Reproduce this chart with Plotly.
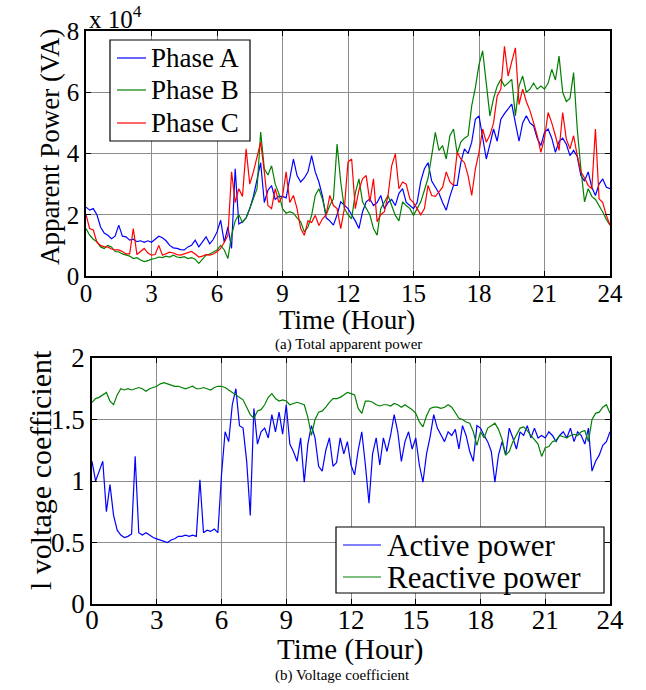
import plotly.graph_objects as go

# ---------------- data (10-minute samples, hours 0..24) ----------------
hours = [i / 6 for i in range(145)]

# Apparent power, units of 1e4 VA
phase_a = [
    2.25, 2.15, 2.2, 2.0, 1.6, 1.4,
    1.33, 1.22, 1.3, 1.66, 1.3, 1.28,
    1.17, 1.2, 1.12, 1.15, 1.1, 1.15,
    1.1, 1.2, 1.3, 1.25, 1.15, 1.0,
    0.92, 0.9, 0.86, 0.85, 0.95, 1.0,
    1.17, 0.95, 1.1, 1.28, 1.05, 1.2,
    1.44, 1.82, 1.1, 1.6, 0.9, 3.5,
    1.7, 1.77, 1.9, 2.2, 2.6, 3.2,
    3.7, 2.4, 2.8, 2.95, 2.5, 2.6,
    2.6, 2.55, 3.2, 3.82, 3.28, 3.07,
    3.2, 3.4, 3.93, 3.4, 3.07, 2.6,
    1.9, 1.8, 1.66, 2.0, 2.42, 2.3,
    2.2, 2.0, 1.8, 1.55, 2.1, 2.42,
    2.52, 2.3, 2.4, 2.63, 2.2, 2.4,
    2.5, 2.3, 2.7, 2.85, 2.4, 2.3,
    2.2, 2.4, 3.1, 3.5, 3.7, 3.1,
    2.9, 2.7, 2.4, 2.15, 2.6, 2.96,
    2.96, 3.7, 4.15, 4.0, 4.37, 5.12,
    5.23, 4.47, 3.82, 4.3, 4.8, 4.4,
    5.12, 5.3, 5.45, 5.61, 5.0, 4.4,
    5.0, 5.23, 5.0, 4.9, 4.5, 4.26,
    4.69, 4.8, 4.5, 4.04, 4.4, 4.5,
    4.3, 3.93, 4.1, 3.9, 3.28, 3.1,
    3.4, 2.9, 2.63, 3.0, 3.17, 2.9,
    2.85,
]
phase_b = [
    1.55, 1.33, 1.2, 1.12, 0.95, 0.9,
    1.0, 0.95, 0.8, 0.79, 0.72, 0.68,
    0.65, 0.57, 0.6, 0.52, 0.47, 0.5,
    0.55, 0.57, 0.62, 0.6, 0.65, 0.62,
    0.68, 0.62, 0.6, 0.63, 0.57, 0.6,
    0.55, 0.41, 0.55, 0.68, 0.72, 0.79,
    0.85, 1.0, 0.85, 0.57, 1.33, 1.8,
    2.0, 1.75, 1.9, 2.2, 2.5, 2.85,
    4.7, 3.5, 3.3, 3.6, 3.0, 2.7,
    2.2, 2.05, 2.1, 2.05, 1.9, 1.77,
    1.44, 1.6, 1.98, 2.63, 2.85, 2.5,
    2.0, 2.3, 2.52, 4.31, 3.07, 2.2,
    2.0, 1.87, 2.7, 3.17, 2.42, 2.2,
    2.0, 1.55, 1.33, 2.2, 2.4, 2.63,
    2.3, 1.98, 1.8, 2.42, 2.3, 2.2,
    1.98, 2.2, 2.42, 2.8, 3.2, 3.93,
    4.69, 4.1, 4.26, 3.82, 4.58, 4.8,
    4.0, 4.37, 4.5, 4.58, 5.56, 6.15,
    6.9, 7.35, 6.2, 5.23, 5.8, 6.2,
    6.42, 6.2, 6.3, 6.42, 5.23, 6.2,
    6.53, 6.0, 6.1, 6.3, 6.1, 6.2,
    6.1, 6.3, 6.75, 6.4, 7.18, 6.0,
    5.7, 5.8, 6.64, 4.8, 3.5, 2.42,
    2.85, 2.6, 2.5, 2.3, 2.09, 1.85,
    1.66,
]
phase_c = [
    2.0, 1.55, 1.5, 1.1, 1.0, 0.95,
    0.95, 0.88, 0.85, 0.85, 0.8, 0.72,
    0.72, 1.55, 0.7, 0.8, 0.9, 0.75,
    0.68, 0.7, 1.0, 0.68, 0.72, 0.78,
    0.75, 0.7, 0.68, 0.72, 0.75, 0.8,
    0.72, 0.62, 0.65, 0.7, 0.68, 0.72,
    0.79, 0.9, 1.1, 1.33, 3.4, 2.4,
    2.85, 2.6, 4.15, 3.0, 3.4, 3.9,
    4.37, 3.4, 2.3, 2.2, 2.85, 2.4,
    2.6, 3.4, 2.4, 2.63, 2.2, 1.55,
    1.33, 1.8, 1.75, 1.98, 1.65, 1.87,
    2.0, 2.63, 2.3, 2.2, 1.55, 2.2,
    3.72, 3.82, 2.2, 2.8, 3.17, 3.28,
    2.42, 3.17, 1.77, 2.0, 2.1, 2.63,
    3.6, 3.99, 2.85, 3.07, 3.0, 2.52,
    2.4, 2.2, 2.0, 2.2, 2.96, 2.63,
    2.6, 2.75, 2.9, 3.4, 3.07, 2.96,
    4.04, 3.82, 3.7, 3.28, 2.63, 3.5,
    4.04, 4.8, 4.37, 4.6, 5.0, 5.88,
    6.1, 7.5, 6.53, 7.0, 7.45, 5.6,
    6.1, 5.7, 5.4, 5.0, 4.58, 4.04,
    4.5, 5.34, 5.0, 4.58, 4.1, 5.34,
    4.47, 4.15, 4.58, 3.93, 3.4, 3.2,
    2.96, 2.85, 4.8, 2.52, 2.4, 1.98,
    1.66,
]

# Voltage coefficient
active_coef = [
    1.16, 1.0, 1.08, 1.16, 0.75, 0.97,
    0.72, 0.6, 0.56, 0.54, 0.55, 0.57,
    1.2, 0.58, 0.56, 0.58, 0.56, 0.54,
    0.53, 0.52, 0.51, 0.5, 0.52, 0.53,
    0.55, 0.55, 0.56, 0.55, 0.56, 0.55,
    1.01, 0.58, 0.6, 0.59, 0.61, 0.58,
    1.05, 1.4, 1.32, 1.62, 1.75, 1.45,
    1.43, 1.16, 0.72, 1.59, 1.3, 1.4,
    1.43, 1.35, 1.54, 1.4, 1.56, 1.38,
    1.62, 1.3, 1.24, 1.16, 1.35, 0.99,
    1.3, 1.45, 1.35, 1.12, 1.08, 1.25,
    1.35, 1.12, 1.15, 1.35, 1.22, 1.32,
    1.13, 1.05, 1.25, 1.4, 1.13, 0.82,
    1.22, 1.35, 1.13, 1.35, 1.24, 1.37,
    1.54, 1.4, 1.16, 1.32, 1.4, 1.26,
    1.35, 1.13, 0.99, 1.22, 1.36, 1.54,
    1.43, 1.38, 1.32, 1.4, 1.37, 1.42,
    1.26, 1.45, 1.37, 1.24, 1.16, 1.45,
    1.43, 1.37, 1.32, 1.24, 0.99, 1.21,
    1.32, 1.21, 1.43, 1.35, 1.26, 1.4,
    1.37, 1.45, 1.35, 1.43, 1.35, 1.37,
    1.35, 1.4, 1.37, 1.32, 1.37, 1.4,
    1.35, 1.43, 1.32, 1.4, 1.37, 1.3,
    1.43, 1.08, 1.16, 1.21, 1.29, 1.32,
    1.4,
]
reactive_coef = [
    1.64, 1.67, 1.68, 1.7, 1.72, 1.65,
    1.62, 1.7, 1.75, 1.74, 1.75, 1.74,
    1.75, 1.76, 1.75, 1.73, 1.75, 1.76,
    1.77, 1.79, 1.8, 1.79, 1.78, 1.77,
    1.77, 1.76, 1.75, 1.76, 1.77, 1.75,
    1.75, 1.76, 1.75, 1.74, 1.76, 1.77,
    1.77, 1.76, 1.74, 1.72, 1.7, 1.68,
    1.66, 1.6, 1.54, 1.51, 1.57, 1.58,
    1.62, 1.68, 1.71, 1.67, 1.65, 1.66,
    1.65, 1.62, 1.63, 1.64, 1.63, 1.62,
    1.52, 1.37, 1.5, 1.56, 1.57, 1.6,
    1.64, 1.67, 1.67, 1.68, 1.7, 1.72,
    1.71, 1.7, 1.59, 1.55, 1.65, 1.65,
    1.64, 1.62, 1.61, 1.62, 1.62, 1.61,
    1.63, 1.62, 1.6, 1.62, 1.6, 1.58,
    1.55, 1.48, 1.44, 1.53, 1.59, 1.6,
    1.6, 1.59, 1.6, 1.62, 1.6, 1.55,
    1.51, 1.5, 1.48, 1.47, 1.4, 1.29,
    1.4, 1.35, 1.43, 1.45, 1.47, 1.42,
    1.34, 1.21, 1.24, 1.32, 1.37, 1.43,
    1.44, 1.41, 1.37, 1.33, 1.3, 1.2,
    1.27, 1.28, 1.32, 1.33, 1.37, 1.36,
    1.35, 1.37, 1.38, 1.37, 1.4, 1.41,
    1.32, 1.5, 1.55, 1.56, 1.6, 1.62,
    1.55,
]

hour_ticks = [0, 3, 6, 9, 12, 15, 18, 21, 24]
power_ticks = [0, 2, 4, 6, 8]
coef_ticks = [0, 0.5, 1, 1.5, 2]
coef_tick_text = ["0", "0.5", "1", "1.5", "2"]
top_names = ["Phase A", "Phase B", "Phase C"]
bottom_names = ["Active power", "Reactive power"]

# ---------------- figure ----------------
W, H = 646, 690
SERIF = "'Liberation Serif', 'Times New Roman', Times, serif"
BLUE, GREEN, RED = "#0000ff", "#008000", "#ff0000"
top_colors = [BLUE, GREEN, RED]
bottom_colors = [BLUE, GREEN]

fig = go.Figure()
for name, ys, col in zip(top_names, [phase_a, phase_b, phase_c], top_colors):
    fig.add_trace(go.Scatter(x=hours, y=ys, mode="lines", name=name,
                             line=dict(color=col, width=1.2), xaxis="x", yaxis="y"))
for name, ys, col in zip(bottom_names, [active_coef, reactive_coef], bottom_colors):
    fig.add_trace(go.Scatter(x=hours, y=ys, mode="lines", name=name,
                             line=dict(color=col, width=1.2), xaxis="x2", yaxis="y2"))

axis_common = dict(showline=True, linecolor="black", linewidth=1.5, mirror="ticks",
                   ticks="inside", ticklen=5, tickcolor="black", automargin=False,
                   showgrid=True, gridcolor="#8c8c8c", gridwidth=1, zeroline=False,
                   tickfont=dict(family=SERIF, size=25, color="black"))


def px_dom(a, b, total):
    return [a / total, b / total]


fig.update_layout(
    width=W, height=H, autosize=False,
    margin=dict(l=0, r=0, t=0, b=0, pad=0, autoexpand=False),
    paper_bgcolor="white", plot_bgcolor="white",
    font=dict(family=SERIF, color="black"),
    showlegend=False,
    xaxis=dict(axis_common, domain=px_dom(86, 610, W), range=[0, 24],
               tickvals=hour_ticks, anchor="y", ticklabelstandoff=-6),
    yaxis=dict(axis_common, domain=[1 - 276 / H, 1 - 31 / H], range=[0, 8],
               tickvals=power_ticks, anchor="x"),
    xaxis2=dict(axis_common, domain=px_dom(92, 610, W), range=[0, 24],
                tickvals=hour_ticks, anchor="y2", ticklabelstandoff=-9,
                tickfont=dict(family=SERIF, size=27, color="black")),
    yaxis2=dict(axis_common, domain=[1 - 604 / H, 1 - 358 / H], range=[0, 2],
                tickvals=coef_ticks, ticktext=coef_tick_text, anchor="x2",
                tickfont=dict(family=SERIF, size=27, color="black")),
)

# ---- legends drawn as boxed keys (pixel positions converted to paper coords) ----
shapes = []
ann = []


def add_legend(box, names, colors, row_y, x_line, x_text, fsize):
    x0, y0, x1, y1 = box
    shapes.append(dict(type="rect", xref="paper", yref="paper", layer="above",
                       x0=x0 / W, x1=x1 / W, y0=1 - y1 / H, y1=1 - y0 / H,
                       fillcolor="white", line=dict(color="black", width=1.2)))
    for name, col, ry in zip(names, colors, row_y):
        shapes.append(dict(type="line", xref="paper", yref="paper", layer="above",
                           x0=x_line[0] / W, x1=x_line[1] / W, y0=1 - ry / H, y1=1 - ry / H,
                           line=dict(color=col, width=1.2)))
        ann.append(dict(text=name, x=x_text / W, y=1 - ry / H, xanchor="left",
                        yanchor="middle", font=dict(family=SERIF, size=fsize)))


add_legend((110, 40, 250, 141), top_names, top_colors, [58, 90, 123], (117, 146), 149, 27)
add_legend((336, 527, 604, 593), bottom_names, bottom_colors, [545, 577], (343, 381), 385, 31)

ann += [
    dict(text="x 10<sup>4</sup>", x=87 / W, y=1 - 17 / H, xanchor="left", yanchor="middle",
         font=dict(family=SERIF, size=25)),
    dict(text="Apparent Power (VA)", x=50 / W, y=1 - 147 / H, textangle=-90,
         xanchor="center", yanchor="middle", font=dict(family=SERIF, size=27)),
    dict(text="Time (Hour)", x=347 / W, y=1 - 320 / H, xanchor="center", yanchor="middle",
         font=dict(family=SERIF, size=27)),
    dict(text="(a) Total apparent power", x=348 / W, y=1 - 344 / H, xanchor="center",
         yanchor="middle", font=dict(family=SERIF, size=15)),
    dict(text="l voltage coefficient", x=40 / W, y=1 - 470 / H, textangle=-90,
         xanchor="center", yanchor="middle", font=dict(family=SERIF, size=30)),
    dict(text="Time (Hour)", x=350 / W, y=1 - 649 / H, xanchor="center", yanchor="middle",
         font=dict(family=SERIF, size=29)),
    dict(text="(b) Voltage coefficient", x=342 / W, y=1 - 675 / H, xanchor="center",
         yanchor="middle", font=dict(family=SERIF, size=15)),
]
for a in ann:
    a.update(xref="paper", yref="paper", showarrow=False)
    a["font"]["color"] = "black"
fig.update_layout(annotations=ann, shapes=shapes)

fig.write_html("out.html")
